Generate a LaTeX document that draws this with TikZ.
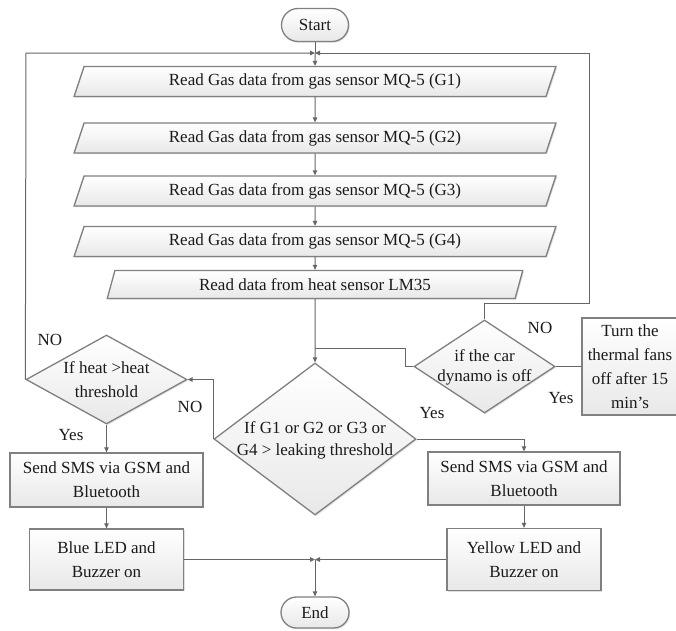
\documentclass[tikz,border=0pt]{standalone}
\usepackage{fontspec}
\setmainfont{Liberation Serif}
\usetikzlibrary{shapes.geometric,shapes.misc,arrows.meta,shadows}
\definecolor{edgec}{HTML}{808080}
\definecolor{linec}{HTML}{666666}
\definecolor{txtc}{HTML}{1A1A1A}
\newcommand{\dtext}[1]{\smash{\makebox[0pt]{\raisebox{-0.3em}{\begin{tabular}{@{}c@{}}#1\end{tabular}}}}}
\begin{document}
\begin{tikzpicture}[x=1pt,y=-1pt,
  font=\fontsize{17}{24}\selectfont,
  shapebase/.style={draw=edgec, line width=1.3pt, top color=white, bottom color=black!9,
    drop shadow={shadow xshift=1.2pt, shadow yshift=-1.2pt, opacity=0.25},
    inner sep=0pt, text=txtc},
  proc/.style={shapebase, rectangle, align=center},
  io/.style={shapebase, trapezium, trapezium left angle=68, trapezium right angle=112,
    trapezium stretches=true, minimum height=30pt, minimum width=484pt},
  term/.style={shapebase, rounded rectangle, minimum width=67pt, minimum height=33pt},
  dec/.style={shapebase, diamond},
  conn/.style={draw=linec, line width=1pt},
  arr/.style={conn, -{Triangle[length=5pt,width=4.5pt]}},
  lbl/.style={text=txtc, inner sep=0pt}
]
\useasboundingbox (0,0) rectangle (676,630);

\node[term] (start) at (315,25) {Start};
\coordinate (j1) at (315,53);
\node[io] (g1) at (315,81.5) {Read Gas data from gas sensor MQ-5 (G1)};
\node[io] (g2) at (315,138) {Read Gas data from gas sensor MQ-5 (G2)};
\node[io] (g3) at (315,191) {Read Gas data from gas sensor MQ-5 (G3)};
\node[io] (g4) at (315,241.5) {Read Gas data from gas sensor MQ-5 (G4)};
\node[io, minimum width=416pt, minimum height=28pt, trapezium left angle=70, trapezium right angle=110] (lm) at (315,284.5) {Read data from heat sensor LM35};

\node[dec, minimum width=202pt, minimum height=152pt, font=\fontsize{17}{22}\selectfont] (big) at (315,439) {\dtext{If G1 or G2 or G3 or\\G4 > leaking threshold}};
\node[dec, minimum width=161pt, minimum height=89pt] (heat) at (106.5,379.5) {\dtext{If heat >heat\\threshold}};
\node[dec, minimum width=141pt, minimum height=93pt, font=\fontsize{17}{20}\selectfont] (dyn) at (484.5,366.5) {\dtext{if the car\\dynamo is off}};

\node[proc, minimum width=193pt, minimum height=54pt] (smsL) at (106.5,480) {Send SMS via GSM and\\Bluetooth};
\node[proc, minimum width=154pt, minimum height=61pt] (blue) at (106.5,559.5) {Blue LED and\\Buzzer on};
\node[proc, minimum width=192pt, minimum height=53pt] (smsR) at (524,478.5) {Send SMS via GSM and\\Bluetooth};
\node[proc, minimum width=154pt, minimum height=62pt] (yel) at (524,559.5) {Yellow LED and\\Buzzer on};
\node[proc, minimum width=96pt, minimum height=97pt] (turn) at (630,366.5) {Turn the\\thermal fans\\off after 15\\min’s};
\node[term, minimum width=68pt, minimum height=31pt] (end) at (315,612.5) {End};

\coordinate (j2) at (315,559.5);
\coordinate (j3) at (315,348);
\coordinate (k1) at (405,348);
\coordinate (r1) at (589,303);
\coordinate (l1) at (26,53);

\draw[conn] (start) -- (j1);
\draw[arr] (j1) -- (g1);
\draw[arr] (g1) -- (g2);
\draw[arr] (g2) -- (g3);
\draw[arr] (g3) -- (g4);
\draw[arr] (g4) -- (lm);
\draw[arr] (lm) -- (big);
\draw[conn] (dyn.west) -| (k1) -- (j3);
\draw[arr] (dyn.north) |- (r1) |- (j1);
\draw[arr] (heat.west) -- (l1) -- (j1);
\draw[arr] (big.west) |- (heat.east);
\draw[arr] (big.east) -| (smsR.north);
\draw[arr] (heat) -- (smsL);
\draw[arr] (smsL) -- (blue);
\draw[arr] (smsR) -- (yel);
\draw[arr] (blue) -- (j2);
\draw[arr] (yel) -- (j2);
\draw[arr] (j2) -- (end);
\draw[conn] (dyn) -- (turn);

\node[lbl] (noA) at (50,340) {NO};
\node[lbl] (noB) at (190,407) {NO};
\node[lbl] (yesA) at (71,435) {Yes};
\node[lbl] (noC) at (540,328) {NO};
\node[lbl] (yesB) at (561,398) {Yes};
\node[lbl] (yesC) at (432,413) {Yes};
\end{tikzpicture}
\end{document}
